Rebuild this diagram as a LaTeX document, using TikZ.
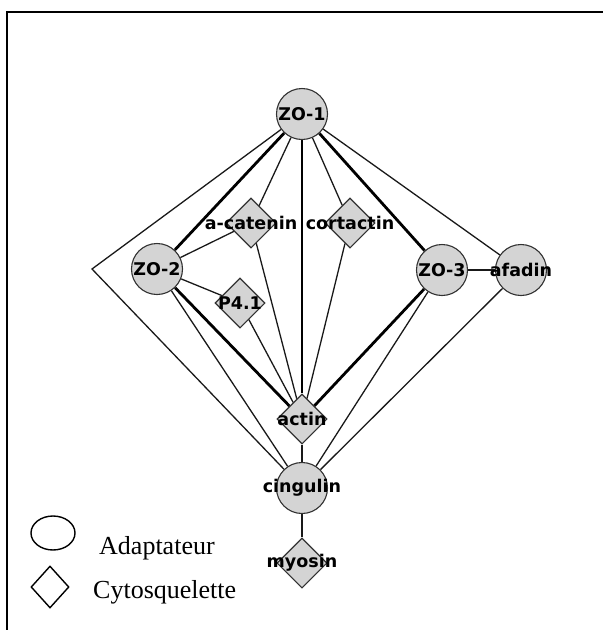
\documentclass[tikz,border=0pt]{standalone}
\usepackage{fontspec}
\setmainfont{Liberation Serif}
\newfontfamily\protfont{DejaVu Sans}
\usepackage{tikz}
\usetikzlibrary{shapes.geometric, backgrounds}
\definecolor{NodeGray}{RGB}{212,212,212}
\definecolor{RimGray}{RGB}{50,50,50}

\begin{document}
\begin{tikzpicture}[x=1pt, y=-1pt,
          lbl/.style={font=\protfont\bfseries\fontsize{17.5}{20}\selectfont,
                      inner sep=0pt},
          adapt/.style={circle, draw=RimGray, fill=NodeGray, line width=1.1pt,
                        minimum size=51pt, inner sep=0pt,
                        label={[lbl]center:#1}},
          cyto/.style={diamond, draw=RimGray, fill=NodeGray, line width=1.1pt,
                       minimum size=50pt, inner sep=0pt,
                       label={[lbl]center:#1}},
          lnk/.style={line width=1.3pt, draw=black!90},
          strong/.style={line width=2.8pt, draw=black},
          key/.style={draw=black, line width=1.4pt, inner sep=0pt},
          keytext/.style={font=\fontsize{26}{30}\selectfont, anchor=base west,
                          inner sep=0pt}
        ]
        \useasboundingbox (0,0) rectangle (603,630);

        % Frame (top and left only)
        \draw[line width=2pt] (7,630) -- (7,12) -- (603,12);

        % Adaptors
        \node[adapt=ZO-1]     (zo1)  at (302,114) {};
        \node[adapt=ZO-2]     (zo2)  at (157,269) {};
        \node[adapt=ZO-3]     (zo3)  at (442,270) {};
        \node[adapt=afadin]   (afad) at (521,270) {};
        \node[adapt=cingulin] (cing) at (302,488) {};

        % Cytoskeleton
        \node[cyto=a-catenin] (acat) at (251,223) {};
        \node[cyto=cortactin] (cort) at (350,223) {};
        \node[cyto=P4.1]      (p41)  at (240,303) {};
        \node[cyto=actin]     (act)  at (302,419) {};
        \node[cyto=myosin]    (myo)  at (302,563) {};

        \coordinate (bend) at (92,269);

        % Interactions
        \begin{scope}[on background layer]
          \draw[strong] (zo1) -- (zo2);
          \draw[strong] (zo1) -- (act);
          \draw[strong] (zo1) -- (zo3);
          \draw[strong] (zo2) -- (act);
          \draw[strong] (zo3) -- (act);

          \draw[lnk] (zo1) -- (acat);
          \draw[lnk] (zo1) -- (cort);
          \draw[lnk] (zo1) -- (afad);
          \draw[lnk] (zo1) -- (bend) -- (cing);
          \draw[lnk] (zo2) -- (acat);
          \draw[lnk] (zo2) -- (p41);
          \draw[lnk] (zo2) -- (cing);
          \draw[lnk] (acat) -- (act);
          \draw[lnk] (cort) -- (act);
          \draw[lnk] (p41) -- (act);
          \draw[lnk] (zo3) -- (afad);
          \draw[lnk] (zo3) -- (cing);
          \draw[lnk] (afad) -- (cing);
          \draw[lnk] (act) -- (cing);
          \draw[lnk] (cing) -- (myo);
        \end{scope}

        % Legend
        \node[key, ellipse, minimum width=44pt, minimum height=34pt]
              (keyadapt) at (53,533) {};
        \node[key, diamond, minimum width=38pt, minimum height=42pt]
              (keycyto) at (50,587) {};
        \node[keytext] (txtadapt) at (99,554) {Adaptateur};
        \node[keytext] (txtcyto)  at (93,598) {Cytosquelette};
      \end{tikzpicture}
\end{document}
